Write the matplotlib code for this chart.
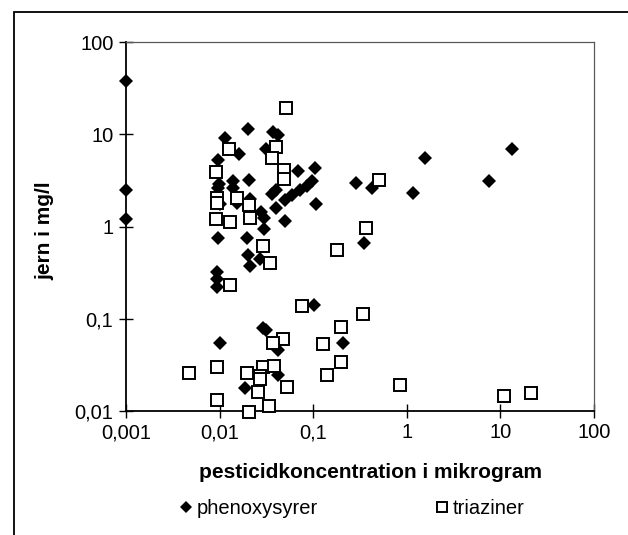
import numpy as np
import matplotlib
matplotlib.use("Agg")
import matplotlib.pyplot as plt
from matplotlib.patches import Rectangle

plt.rcParams['font.family'] = ['Liberation Sans', 'DejaVu Sans']

# phenoxysyrer (filled diamonds)
phen_x = [0.001, 0.001, 0.001, 0.0114, 0.0203, 0.037, 0.042, 0.031, 0.0162, 0.0095,
          0.0098, 0.0138, 0.0208, 0.0097, 0.0139, 0.0100, 0.0152, 0.021, 0.036, 0.040,
          0.040, 0.028, 0.030, 0.05, 0.059, 0.072, 0.085, 0.096, 0.069, 0.105,
          0.107, 0.05, 0.030, 0.0097, 0.0195, 0.0203, 0.021, 0.027, 0.0093, 0.0093,
          0.0093, 0.102, 0.029, 0.031, 0.010, 0.042, 0.21, 0.042, 0.0187, 0.29,
          0.42, 1.56, 1.17, 7.6, 13.3, 0.35]
phen_y = [38, 2.5, 1.2, 9.2, 11.3, 10.7, 9.8, 7.0, 6.1, 5.2,
          2.9, 3.1, 3.2, 2.6, 2.6, 1.75, 1.8, 2.0, 2.27, 2.5,
          1.6, 1.45, 1.25, 1.95, 2.2, 2.5, 2.75, 3.1, 4.0, 4.3,
          1.75, 1.15, 0.93, 0.75, 0.75, 0.49, 0.37, 0.44, 0.32, 0.27,
          0.22, 0.14, 0.08, 0.076, 0.054, 0.046, 0.054, 0.0246, 0.0176, 2.95,
          2.6, 5.5, 2.3, 3.1, 6.9, 0.67]

# triaziner (open squares)
tria_x = [0.051, 0.0127, 0.040, 0.036, 0.0091, 0.049, 0.049, 0.50, 0.0093, 0.0093,
          0.0152, 0.0208, 0.021, 0.0091, 0.0129, 0.029, 0.0345, 0.37, 0.178, 0.0129,
          0.075, 0.34, 0.20, 0.126, 0.048, 0.037, 0.20, 0.0093, 0.0047, 0.0194,
          0.029, 0.038, 0.027, 0.027, 0.139, 0.026, 0.052, 0.0093, 0.034, 0.0208,
          0.85, 10.9, 21.2]
tria_y = [19.3, 7.0, 7.3, 5.5, 3.9, 4.1, 3.3, 3.2, 2.05, 1.8,
          2.05, 1.71, 1.25, 1.2, 1.12, 0.62, 0.40, 0.96, 0.55, 0.23,
          0.137, 0.112, 0.081, 0.053, 0.06, 0.054, 0.034, 0.030, 0.0256, 0.0256,
          0.030, 0.031, 0.024, 0.022, 0.0248, 0.0162, 0.018, 0.0132, 0.0113, 0.0098,
          0.019, 0.0146, 0.0156]

x_ticks = [0.001, 0.01, 0.1, 1, 10, 100]
x_labels = ["0,001", "0,01", "0,1", "1", "10", "100"]
y_ticks = [0.01, 0.1, 1, 10, 100]
y_labels = ["0,01", "0,1", "1", "10", "100"]

fig = plt.figure(figsize=(6.28, 5.35), dpi=100)
ax = fig.add_axes([126/628, 1 - 411/535, 468/628, 369/535])

ph, = ax.plot(phen_x, phen_y, 'D', color='black', ms=7.6, mew=0, clip_on=False,
              label='phenoxysyrer', zorder=3)
tr, = ax.plot(tria_x, tria_y, 's', mfc='white', mec='black', ms=8.4, mew=1.4,
              clip_on=False, label='triaziner', zorder=4)

ax.set_xscale('log')
ax.set_yscale('log')
ax.set_xlim(0.001, 100)
ax.set_ylim(0.01, 100)
ax.set_xticks(x_ticks)
ax.set_xticklabels(x_labels)
ax.set_yticks(y_ticks)
ax.set_yticklabels(y_labels)
ax.minorticks_off()
ax.tick_params(direction='inout', length=10, width=1, labelsize=14.5, pad=4)

for s in ['left', 'bottom']:
    ax.spines[s].set_linewidth(1.3)
for s in ['top', 'right']:
    ax.spines[s].set_linewidth(0.9)
    ax.spines[s].set_color('0.35')

ax.set_xlabel('pesticidkoncentration i mikrogram', fontsize=15, fontweight='bold', va='center')
ax.xaxis.set_label_coords(0.523, -0.168)
ax.set_ylabel('jern i mg/l', fontsize=15, fontweight='bold', va='center')
ax.yaxis.set_label_coords(-0.173, 0.49)

fig.legend(handles=[ph, tr], loc='center', bbox_to_anchor=(0.56, 0.05), ncol=2,
           frameon=False, fontsize=14.5, handlelength=0.7, handletextpad=0.2,
           columnspacing=5.8, borderpad=0, markerscale=0.85)

fig.patches.append(Rectangle((14/628, -0.2), 1.2, 1.2 - 12/535, transform=fig.transFigure,
                             fill=False, lw=1.3, ec='black', figure=fig))

fig.savefig('out.png', dpi=100)
